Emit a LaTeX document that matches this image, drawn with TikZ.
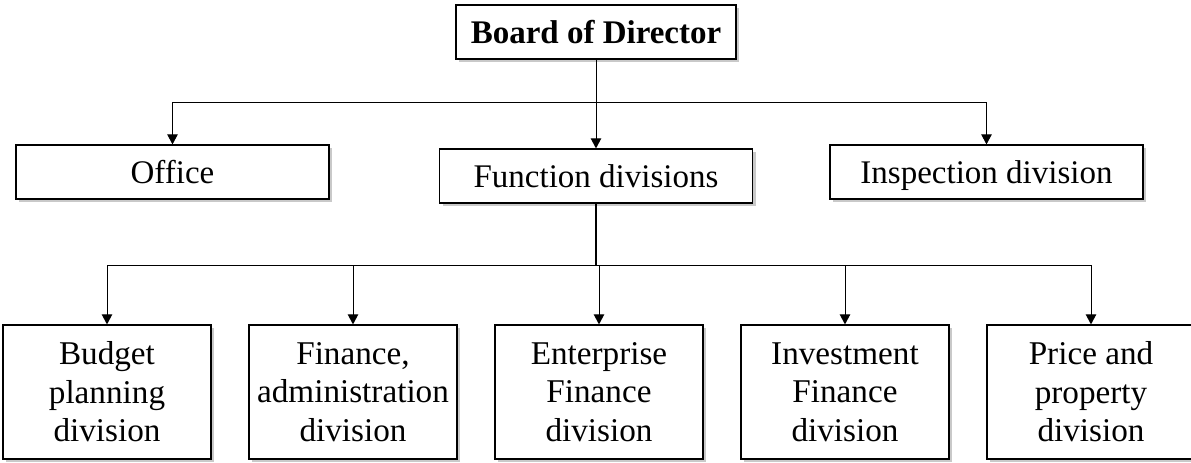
\documentclass[tikz,border=0pt]{standalone}
\usepackage{fontspec}
\setmainfont{Liberation Serif}
\usetikzlibrary{positioning, arrows.meta, shadows}
\tikzstyle{orgBox} = [shape=rectangle, draw=black, text=black, line width=0.6pt,
	align=center, fill=white, inner sep=0pt,
	drop shadow={shadow xshift=1.5pt, shadow yshift=-1.5pt, fill=black!30, opacity=0.7},
	font=\fontsize{16.5}{20}\selectfont]
\tikzstyle{WideBox} = [orgBox, minimum width=156.5pt, minimum height=27pt,
	text height=13pt, text depth=2pt]
\tikzstyle{UnitBox} = [orgBox, minimum width=104pt, minimum height=67pt,
	font=\fontsize{16.6}{19.3}\selectfont]
\tikzstyle{orgArrow} = [line width=0.5pt,->,>={Triangle[length=5pt,width=5.2pt]}, draw=black]
\begin{document}
\begin{tikzpicture}[x=0.5pt,y=-0.5pt,node distance=18.4pt]
	\useasboundingbox (0,0) rectangle (1191,462);
	\node (Board) at (596,32) [WideBox, minimum width=140pt,
		font=\fontsize{16.5}{20}\selectfont\bfseries] {Board of Director};
	\node (Function) at (596,176) [WideBox] {Function divisions};
	\node (Office) at (172.5,172) [WideBox] {Office};
	\node (Inspect) at (986.5,172) [WideBox] {Inspection division};

	\node (Budget) at (107,392) [UnitBox] {Budget\\planning\\division};
	\node (Finance) [UnitBox, right= of Budget] {Finance,\\administration\\division};
	\node (Enterprise) [UnitBox, right= of Finance] {Enterprise\\Finance\\division};
	\node (Investment) [UnitBox, right= of Enterprise] {Investment\\Finance\\division};
	\node (Price) [UnitBox, right= of Investment] {Price and\\property\\division};

	\coordinate (TopBus) at (596,102);
	\coordinate (LowBus) at ([yshift=-31pt]Function.south);

	\draw [orgArrow] (Board) -- (Function);
	\draw [orgArrow] (TopBus) -| (Office);
	\draw [orgArrow] (TopBus) -| (Inspect);

	\draw [line width=1.3pt] (Function) -- (LowBus);
	\draw [orgArrow] (LowBus) -| (Budget);
	\draw [orgArrow] (LowBus) -| (Finance);
	\draw [orgArrow] (LowBus) -| (Enterprise);
	\draw [orgArrow] (LowBus) -| (Investment);
	\draw [orgArrow] (LowBus) -| (Price);
\end{tikzpicture}
\end{document}
